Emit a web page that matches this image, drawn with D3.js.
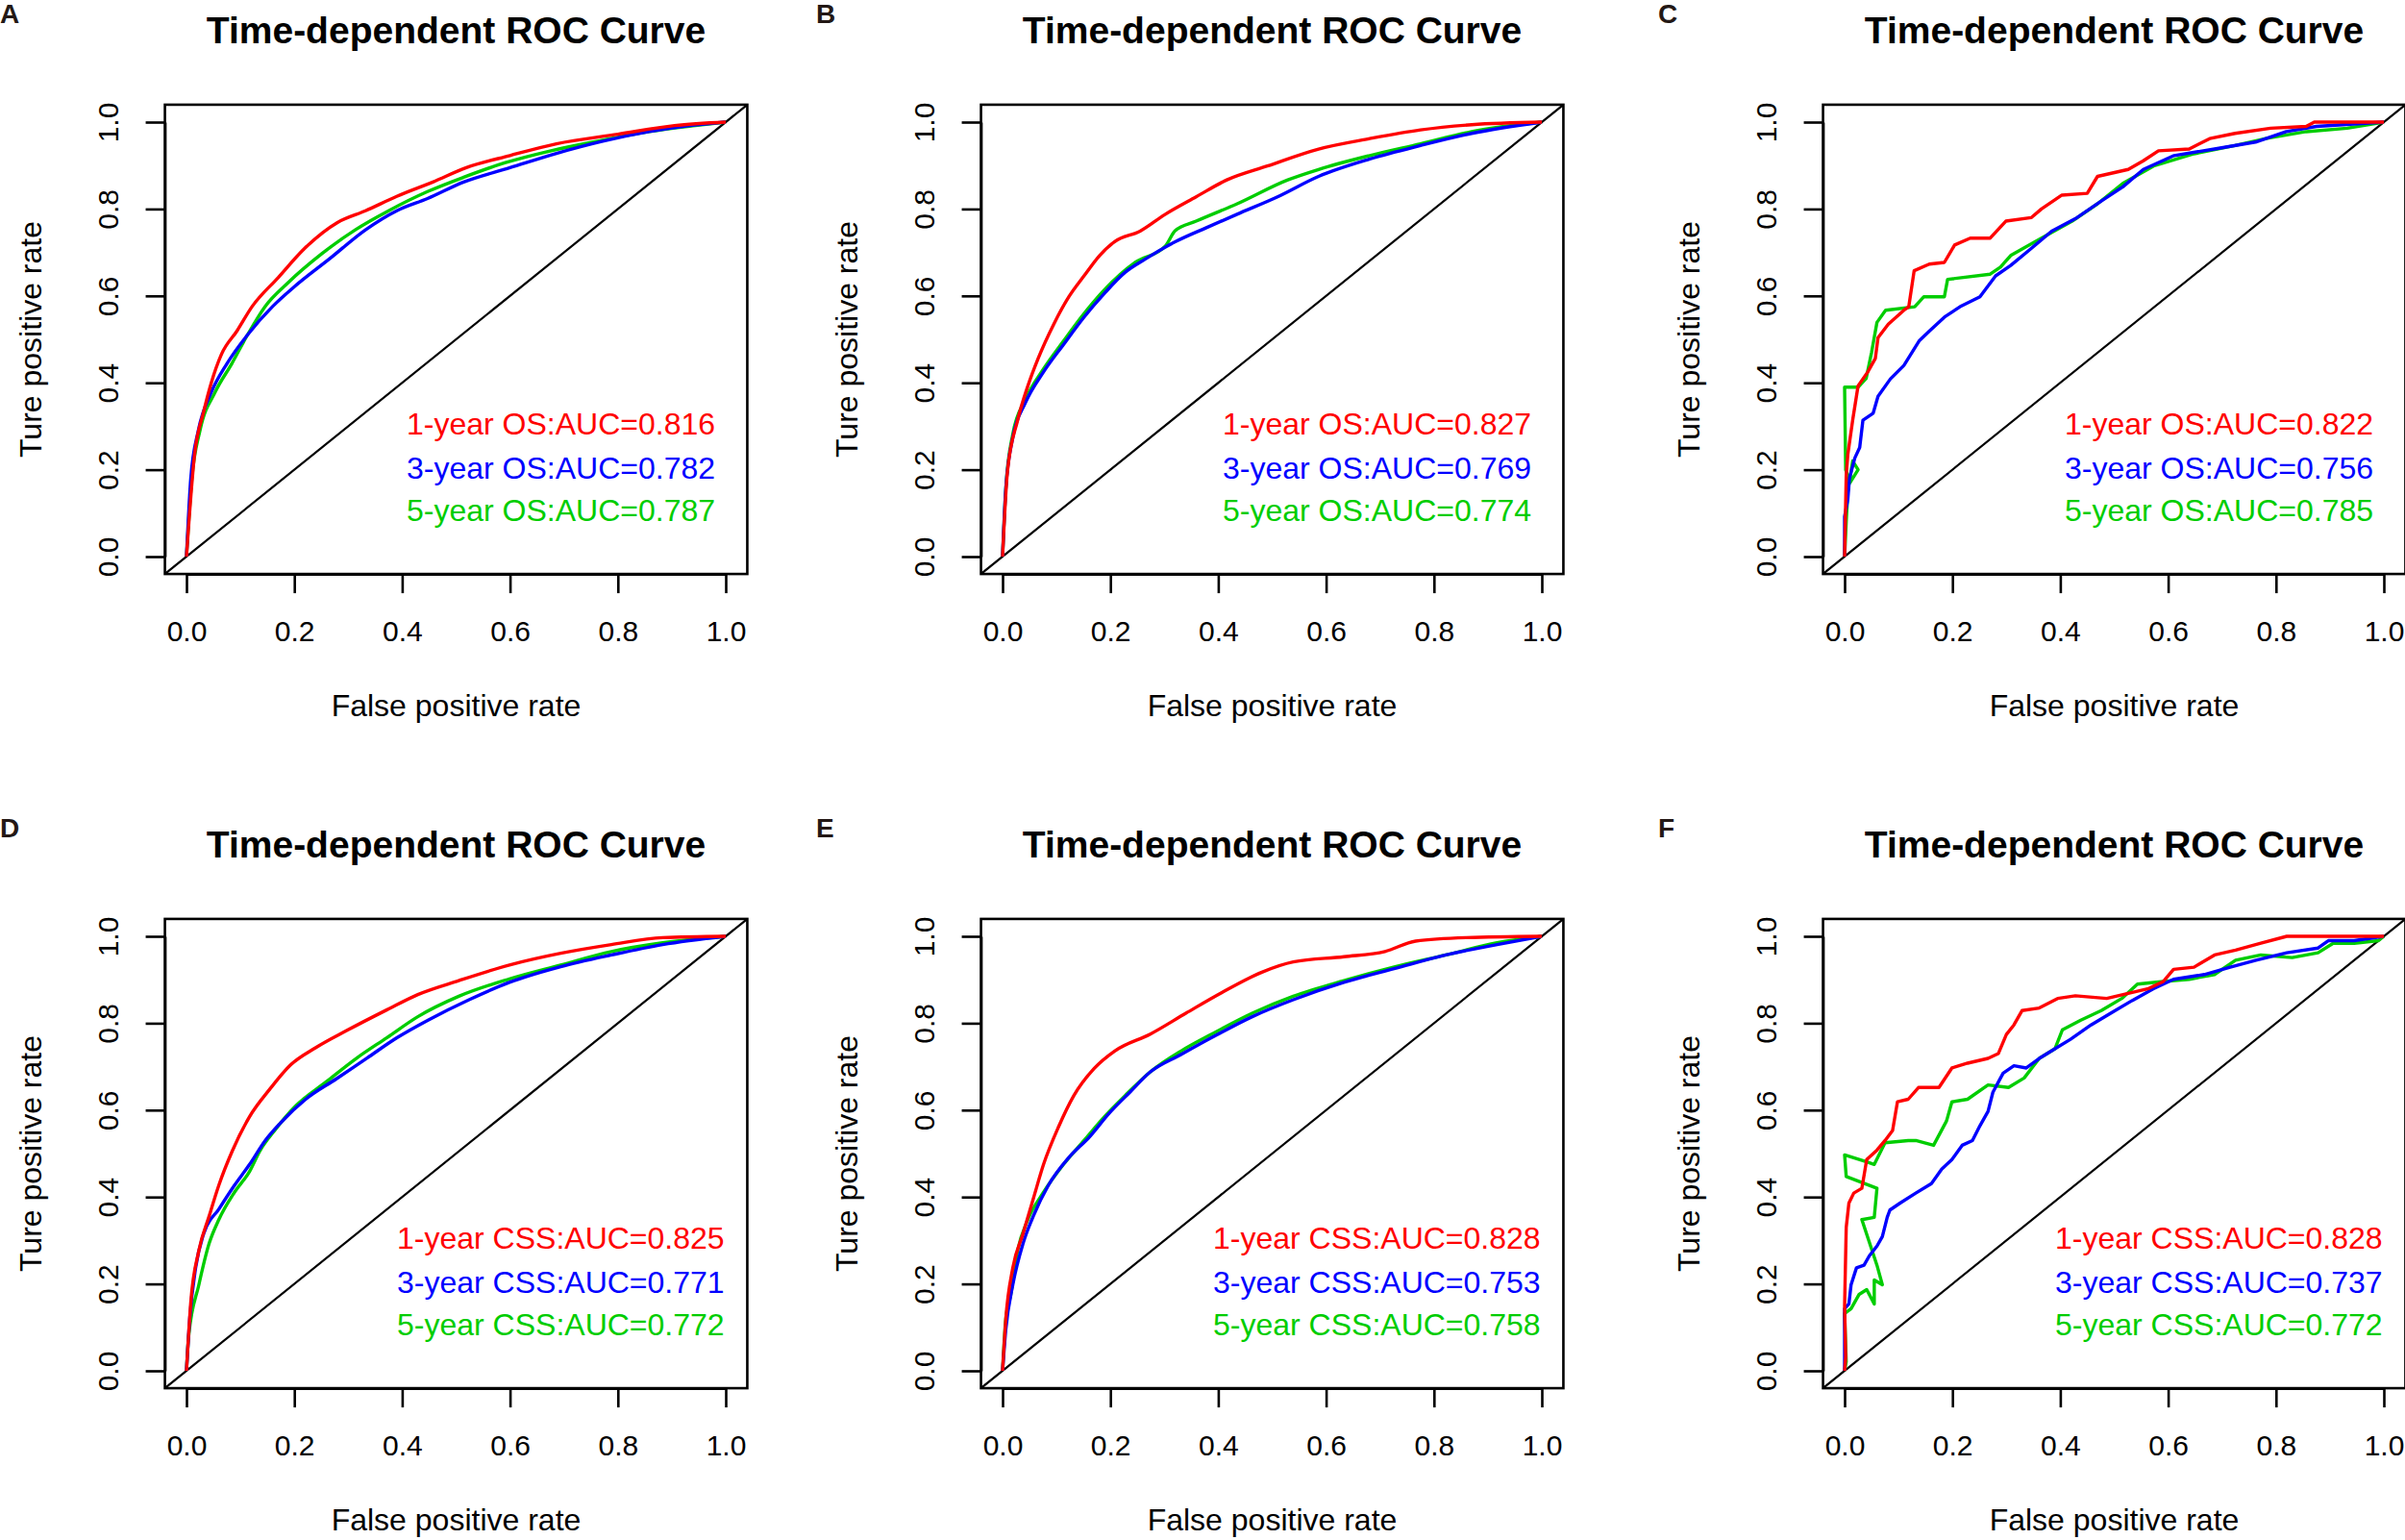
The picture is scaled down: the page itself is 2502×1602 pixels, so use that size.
<!DOCTYPE html>
<html>
<head>
<meta charset="utf-8">
<script src="https://cdn.jsdelivr.net/npm/d3@7"></script>
<style>
  html, body { margin: 0; padding: 0; background: #fff; }
  text { font-family: "Liberation Sans", Arial, sans-serif; }
</style>
</head>
<body>
<div class="content"></div>
<script>
const w = 2502;
const h = 1602;

// panels and legend text
const panelLetters = ['A', 'B', 'C', 'D', 'E', 'F'];
const seriesNames = ['1-year', '3-year', '5-year'];
const endpoints = ['OS', 'OS', 'OS', 'CSS', 'CSS', 'CSS'];
const aucValues = [
	[0.816, 0.782, 0.787],
	[0.827, 0.769, 0.774],
	[0.822, 0.756, 0.785],
	[0.825, 0.771, 0.772],
	[0.828, 0.753, 0.758],
	[0.828, 0.737, 0.772]
];
const seriesColors = ['#ff0000', '#0000ff', '#00cd00'];
const ticks = [0, 0.2, 0.4, 0.6, 0.8, 1.0];

// [false positive rate, true positive rate]: 1-year, 3-year, 5-year
const rocA = [
	[[0,0],[0.015,0.235],[0.032,0.334],[0.046,0.40],[0.065,0.466],[0.094,0.52],[0.122,0.576],[0.17,0.642],[0.218,0.708],[0.28,0.769],[0.332,0.796],[0.39,0.829],[0.457,0.862],[0.519,0.895],[0.6,0.923],[0.686,0.95],[0.8,0.972],[0.905,0.992],[1,1]],
	[[0,0],[0.008,0.18],[0.022,0.29],[0.046,0.378],[0.075,0.444],[0.113,0.51],[0.16,0.576],[0.199,0.62],[0.266,0.686],[0.332,0.752],[0.39,0.796],[0.447,0.824],[0.514,0.862],[0.6,0.895],[0.686,0.928],[0.772,0.956],[0.858,0.978],[0.934,0.992],[1,1]],
	[[0,0],[0.01,0.18],[0.025,0.29],[0.053,0.378],[0.084,0.444],[0.113,0.51],[0.146,0.576],[0.189,0.631],[0.251,0.697],[0.313,0.752],[0.375,0.796],[0.447,0.84],[0.514,0.873],[0.59,0.906],[0.676,0.934],[0.762,0.956],[0.858,0.978],[0.944,0.992],[1,1]]
];
const rocB = [
	[[0,0],[0.009,0.195],[0.028,0.314],[0.047,0.393],[0.066,0.456],[0.095,0.535],[0.123,0.598],[0.151,0.646],[0.18,0.693],[0.208,0.725],[0.255,0.749],[0.302,0.788],[0.359,0.828],[0.416,0.867],[0.491,0.899],[0.586,0.938],[0.681,0.962],[0.775,0.982],[0.87,0.994],[1,1]],
	[[0,0],[0.006,0.156],[0.019,0.274],[0.042,0.353],[0.076,0.425],[0.113,0.488],[0.151,0.551],[0.189,0.606],[0.227,0.654],[0.265,0.685],[0.321,0.725],[0.378,0.757],[0.435,0.788],[0.51,0.828],[0.586,0.875],[0.681,0.915],[0.775,0.946],[0.87,0.974],[1,1]],
	[[0,0],[0.006,0.156],[0.019,0.282],[0.042,0.361],[0.076,0.432],[0.113,0.496],[0.151,0.559],[0.189,0.614],[0.246,0.677],[0.302,0.715],[0.32,0.75],[0.359,0.772],[0.435,0.812],[0.529,0.867],[0.586,0.891],[0.681,0.923],[0.775,0.95],[0.87,0.978],[1,1]]
];
const rocC = [
	[[0,0],[0.003,0.187],[0.006,0.235],[0.015,0.314],[0.025,0.393],[0.043,0.425],[0.057,0.456],[0.062,0.504],[0.081,0.535],[0.11,0.567],[0.119,0.575],[0.129,0.658],[0.157,0.673],[0.185,0.677],[0.204,0.717],[0.233,0.733],[0.27,0.733],[0.299,0.772],[0.346,0.78],[0.365,0.8],[0.403,0.832],[0.45,0.836],[0.469,0.875],[0.526,0.891],[0.554,0.911],[0.582,0.934],[0.639,0.938],[0.677,0.962],[0.724,0.974],[0.79,0.986],[0.856,0.99],[0.871,1],[1,1]],
	[[0,0],[0,0.092],[0.006,0.132],[0.009,0.18],[0.019,0.227],[0.028,0.251],[0.034,0.314],[0.053,0.33],[0.062,0.369],[0.085,0.409],[0.11,0.44],[0.138,0.496],[0.157,0.519],[0.185,0.551],[0.214,0.575],[0.251,0.598],[0.28,0.646],[0.308,0.67],[0.346,0.709],[0.384,0.749],[0.431,0.78],[0.478,0.82],[0.516,0.851],[0.554,0.891],[0.611,0.923],[0.686,0.938],[0.762,0.954],[0.819,0.978],[0.875,0.99],[1,1]],
	[[0,0],[0.003,0.08],[0.006,0.15],[0.015,0.22],[0.025,0.2],[0.01,0.17],[0.002,0.2],[0,0.39],[0.025,0.39],[0.04,0.41],[0.05,0.47],[0.06,0.539],[0.076,0.567],[0.13,0.575],[0.147,0.598],[0.185,0.598],[0.191,0.638],[0.27,0.65],[0.289,0.666],[0.308,0.693],[0.365,0.733],[0.422,0.772],[0.469,0.812],[0.516,0.859],[0.573,0.899],[0.648,0.927],[0.724,0.946],[0.781,0.962],[0.856,0.978],[0.932,0.986],[1,1]]
];
const rocD = [
	[[0,0],[0.008,0.158],[0.023,0.277],[0.042,0.356],[0.06,0.427],[0.085,0.506],[0.117,0.585],[0.155,0.649],[0.193,0.704],[0.24,0.744],[0.297,0.783],[0.372,0.831],[0.429,0.866],[0.505,0.898],[0.599,0.934],[0.694,0.961],[0.788,0.981],[0.883,0.997],[1,1]],
	[[0,0],[0.006,0.119],[0.017,0.237],[0.032,0.316],[0.06,0.372],[0.089,0.427],[0.117,0.475],[0.146,0.53],[0.174,0.57],[0.221,0.625],[0.278,0.672],[0.335,0.72],[0.391,0.767],[0.448,0.807],[0.524,0.854],[0.599,0.894],[0.694,0.93],[0.788,0.957],[0.883,0.981],[1,1]],
	[[0,0],[0.004,0.079],[0.023,0.198],[0.042,0.293],[0.06,0.348],[0.089,0.411],[0.117,0.459],[0.136,0.506],[0.164,0.554],[0.202,0.609],[0.259,0.665],[0.316,0.72],[0.372,0.767],[0.429,0.815],[0.505,0.862],[0.599,0.902],[0.694,0.934],[0.788,0.965],[0.883,0.985],[1,1]]
];
const rocE = [
	[[0,0],[0.006,0.119],[0.019,0.237],[0.038,0.316],[0.057,0.396],[0.076,0.475],[0.104,0.562],[0.132,0.633],[0.17,0.696],[0.208,0.736],[0.274,0.775],[0.34,0.823],[0.406,0.87],[0.482,0.918],[0.539,0.941],[0.633,0.953],[0.709,0.965],[0.766,0.989],[0.86,0.997],[1,1]],
	[[0,0],[0.006,0.095],[0.019,0.198],[0.038,0.293],[0.057,0.356],[0.085,0.427],[0.123,0.491],[0.161,0.538],[0.198,0.593],[0.236,0.641],[0.274,0.688],[0.331,0.728],[0.388,0.767],[0.463,0.815],[0.539,0.854],[0.633,0.894],[0.728,0.926],[0.822,0.957],[0.917,0.981],[1,1]],
	[[0,0],[0.006,0.119],[0.015,0.174],[0.028,0.277],[0.047,0.348],[0.076,0.411],[0.113,0.475],[0.151,0.53],[0.189,0.585],[0.227,0.633],[0.274,0.688],[0.331,0.736],[0.388,0.775],[0.463,0.823],[0.539,0.862],[0.633,0.898],[0.728,0.93],[0.822,0.957],[0.917,0.985],[1,1]]
];
const rocF = [
	[[0,0],[0.002,0.032],[0,0.15],[0.003,0.33],[0.008,0.386],[0.017,0.409],[0.032,0.42],[0.041,0.486],[0.06,0.508],[0.075,0.53],[0.089,0.553],[0.098,0.619],[0.118,0.625],[0.137,0.652],[0.175,0.652],[0.199,0.697],[0.228,0.708],[0.266,0.719],[0.285,0.73],[0.3,0.774],[0.314,0.796],[0.329,0.829],[0.361,0.835],[0.395,0.857],[0.428,0.863],[0.486,0.857],[0.524,0.868],[0.562,0.879],[0.591,0.896],[0.61,0.924],[0.648,0.929],[0.686,0.957],[0.725,0.968],[0.772,0.984],[0.82,1],[1,1]],
	[[0,0],[0,0.143],[0.008,0.154],[0.012,0.198],[0.022,0.237],[0.036,0.243],[0.046,0.265],[0.06,0.287],[0.07,0.309],[0.079,0.353],[0.084,0.37],[0.103,0.386],[0.132,0.409],[0.161,0.431],[0.18,0.464],[0.199,0.486],[0.218,0.519],[0.237,0.53],[0.251,0.564],[0.266,0.597],[0.275,0.641],[0.294,0.685],[0.314,0.702],[0.337,0.697],[0.361,0.719],[0.39,0.741],[0.419,0.763],[0.457,0.796],[0.495,0.824],[0.533,0.852],[0.572,0.879],[0.61,0.901],[0.667,0.912],[0.715,0.929],[0.763,0.945],[0.82,0.962],[0.878,0.973],[0.897,0.99],[0.945,0.99],[1,1]],
	[[0,0],[0.003,0.021],[0,0.132],[0.012,0.143],[0.027,0.176],[0.041,0.187],[0.055,0.154],[0.055,0.209],[0.07,0.198],[0.06,0.243],[0.032,0.348],[0.055,0.353],[0.06,0.42],[0.003,0.447],[0,0.497],[0.041,0.481],[0.055,0.475],[0.075,0.525],[0.118,0.53],[0.132,0.53],[0.165,0.519],[0.189,0.575],[0.199,0.619],[0.228,0.625],[0.266,0.658],[0.304,0.652],[0.333,0.674],[0.361,0.719],[0.39,0.741],[0.404,0.785],[0.438,0.807],[0.476,0.829],[0.514,0.857],[0.543,0.89],[0.591,0.896],[0.639,0.901],[0.686,0.912],[0.725,0.945],[0.772,0.957],[0.83,0.951],[0.878,0.962],[0.906,0.984],[0.945,0.984],[0.99,0.99],[1,1]]
];
const rocData = [rocA, rocB, rocC, rocD, rocE, rocF];
const stepped = [false, false, true, false, false, true];

// panel placement
const colX = [0, 849, 1725];
const rowY = [0, 847];

const content = d3.select('.content');

const svg = content.append('svg')
	.attr('width', w)
	.attr('height', h)
	.style('display', 'block');

svg.append('rect')
	.attr('width', w)
	.attr('height', h)
	.attr('fill', '#fff');

function drawPanel(i) {
	const g = svg.append('g')
		.attr('transform', 'translate(' + colX[i % 3] + ',' + rowY[Math.floor(i / 3)] + ')');

	const x = d3.scaleLinear().domain([0, 1]).range([194, 755]);
	const y = d3.scaleLinear().domain([0, 1]).range([579, 127]);

	// R pads the plot region by 4% on each side
	const x0 = x(-0.04), x1 = x(1.04), y0 = y(-0.04), y1 = y(1.04);

	g.append('text')
		.attr('x', 0)
		.attr('y', 24)
		.attr('font-size', 28)
		.attr('font-weight', 'bold')
		.attr('fill', '#231815')
		.text(panelLetters[i]);

	g.append('text')
		.attr('x', (x0 + x1) / 2)
		.attr('y', 45)
		.attr('text-anchor', 'middle')
		.attr('font-size', 39)
		.attr('font-weight', 'bold')
		.text('Time-dependent ROC Curve');

	const clipId = 'clip' + i;
	g.append('clipPath')
		.attr('id', clipId)
		.append('rect')
		.attr('x', x0)
		.attr('y', y1)
		.attr('width', x1 - x0)
		.attr('height', y0 - y1);

	const plot = g.append('g').attr('clip-path', 'url(#' + clipId + ')');

	plot.append('line')
		.attr('x1', x0).attr('y1', y0)
		.attr('x2', x1).attr('y2', y1)
		.attr('stroke', '#000')
		.attr('stroke-width', 2.2);

	const line = d3.line()
		.x((d) => x(d[0]))
		.y((d) => y(d[1]))
		.curve(stepped[i] ? d3.curveLinear : d3.curveMonotoneX);

	// draw 5-year first so red stays on top like the original
	[2, 1, 0].forEach((s) => {
		plot.append('path')
			.datum(rocData[i][s])
			.attr('d', line)
			.attr('fill', 'none')
			.attr('stroke', seriesColors[s])
			.attr('stroke-width', 3.4)
			.attr('stroke-linejoin', 'round');
	});

	g.append('rect')
		.attr('x', x0)
		.attr('y', y1)
		.attr('width', x1 - x0)
		.attr('height', y0 - y1)
		.attr('fill', 'none')
		.attr('stroke', '#000')
		.attr('stroke-width', 2.6);

	const fmt = d3.format('.1f');

	const xAxis = g.append('g')
		.attr('transform', 'translate(0,' + y0 + ')')
		.call(d3.axisBottom(x).tickValues(ticks).tickFormat(fmt).tickSize(20).tickSizeOuter(0));
	xAxis.select('.domain').attr('stroke-width', 2.6);
	xAxis.selectAll('.tick line').attr('stroke-width', 2.6);
	xAxis.selectAll('text')
		.attr('y', 70)
		.attr('dy', 0)
		.attr('font-size', 30)
		.attr('font-family', '"Liberation Sans", Arial, sans-serif')
		.attr('fill', '#000');

	const yAxis = g.append('g')
		.attr('transform', 'translate(' + x0 + ',0)')
		.call(d3.axisLeft(y).tickValues(ticks).tickFormat(fmt).tickSize(20).tickSizeOuter(0));
	yAxis.select('.domain').attr('stroke-width', 2.6);
	yAxis.selectAll('.tick line').attr('stroke-width', 2.6);
	yAxis.selectAll('text')
		.attr('x', 0)
		.attr('dy', 0)
		.attr('text-anchor', 'middle')
		.attr('transform', 'translate(-49,0) rotate(-90)')
		.attr('font-size', 30)
		.attr('font-family', '"Liberation Sans", Arial, sans-serif')
		.attr('fill', '#000');

	g.append('text')
		.attr('x', (x0 + x1) / 2)
		.attr('y', 745)
		.attr('text-anchor', 'middle')
		.attr('font-size', 32)
		.text('False positive rate');

	g.append('text')
		.attr('transform', 'translate(43,' + ((y0 + y1) / 2) + ') rotate(-90)')
		.attr('text-anchor', 'middle')
		.attr('font-size', 32)
		.text('Ture positive rate');

	const legendX = endpoints[i] === 'CSS' ? 413 : 423;
	const legendY = [452, 498, 542];
	seriesNames.forEach((name, s) => {
		g.append('text')
			.attr('x', legendX)
			.attr('y', legendY[s])
			.attr('font-size', 32)
			.attr('fill', seriesColors[s])
			.text(name + ' ' + endpoints[i] + ':AUC=' + aucValues[i][s].toFixed(3));
	});
}

panelLetters.forEach((d, i) => drawPanel(i));
</script>
</body>
</html>
